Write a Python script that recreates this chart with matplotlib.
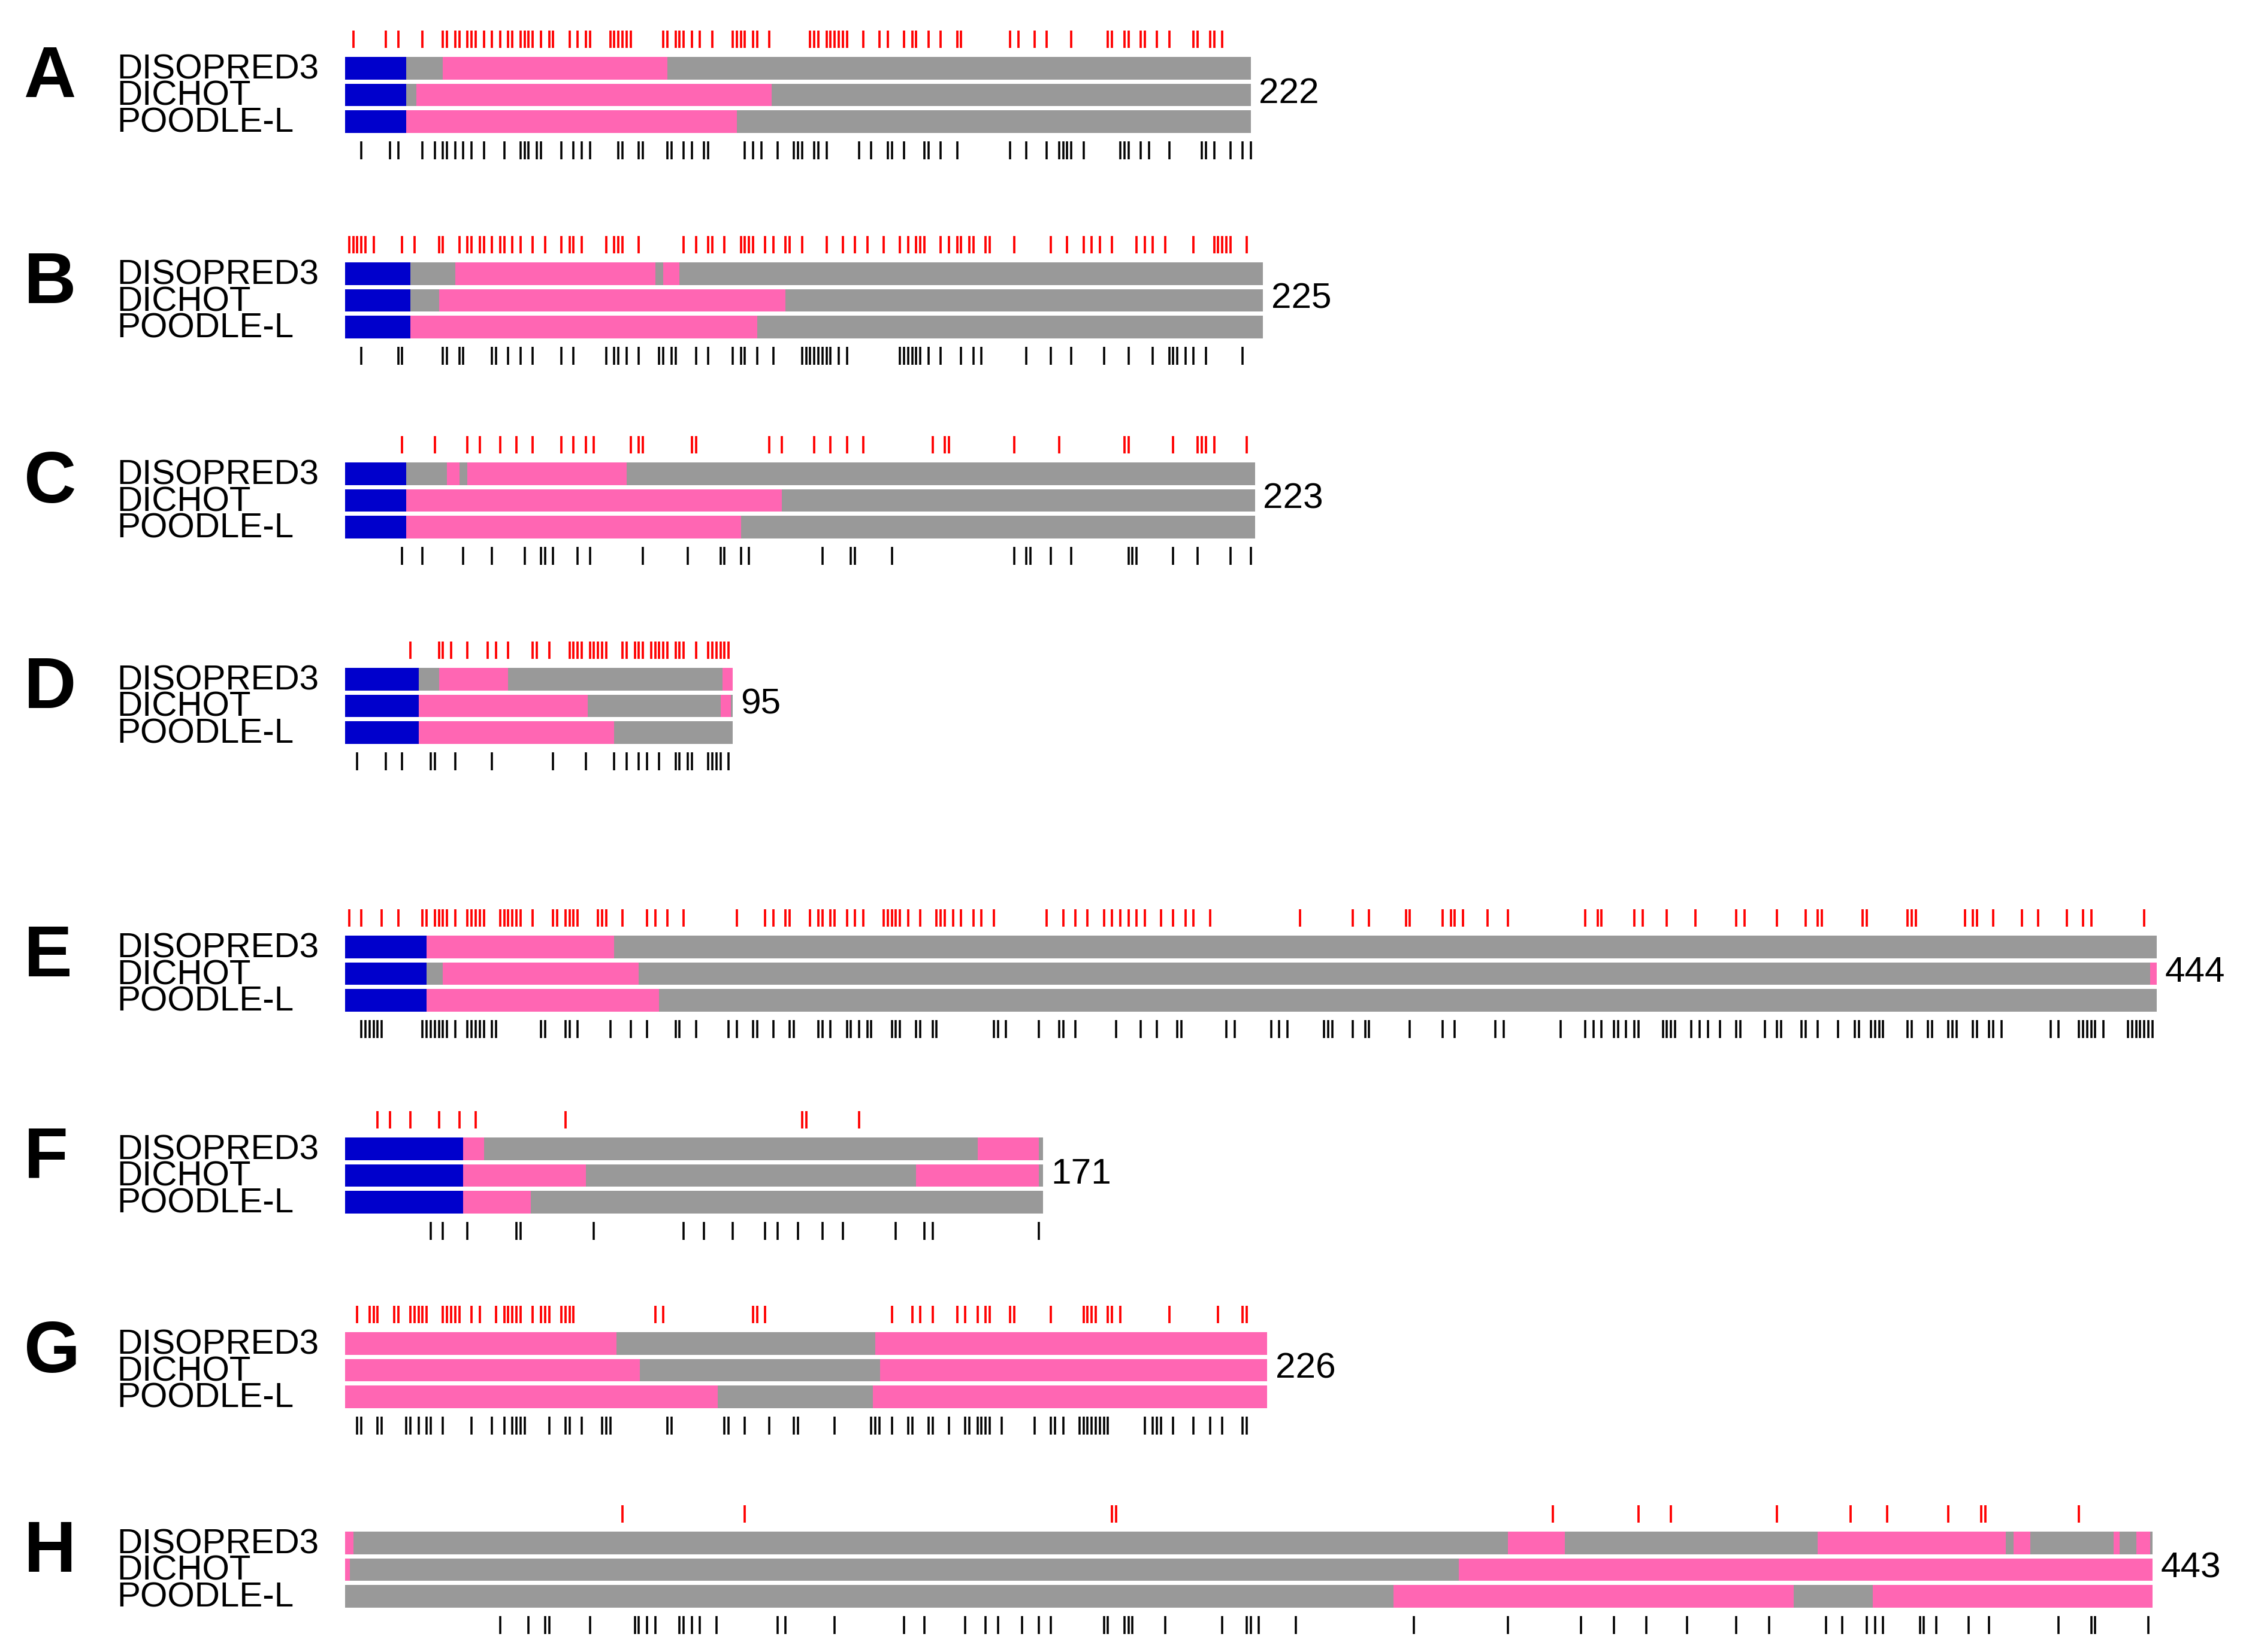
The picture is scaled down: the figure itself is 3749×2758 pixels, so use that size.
import matplotlib
matplotlib.use('Agg')
import matplotlib.pyplot as plt

plt.rcParams['font.family'] = ['Liberation Sans', 'DejaVu Sans']

# ---------------- data ----------------
panels = ['A', 'B', 'C', 'D', 'E', 'F', 'G', 'H']
lengths = [222, 225, 223, 95, 444, 171, 226, 443]
predictors = ['DISOPRED3', 'DICHOT', 'POODLE-L']

# segments per predictor: (start, end, state)  S = signal peptide, D = disordered, O = ordered
seg_A = [
    [(0, 15, 'S'), (15, 24, 'O'), (24, 79, 'D'), (79, 222, 'O')],
    [(0, 15, 'S'), (15, 17.5, 'O'), (17.5, 104.5, 'D'), (104.5, 222, 'O')],
    [(0, 15, 'S'), (15, 96, 'D'), (96, 222, 'O')],
]
seg_B = [
    [(0, 16, 'S'), (16, 27, 'O'), (27, 76, 'D'), (76, 78, 'O'), (78, 82, 'D'), (82, 225, 'O')],
    [(0, 16, 'S'), (16, 23, 'O'), (23, 108, 'D'), (108, 225, 'O')],
    [(0, 16, 'S'), (16, 101, 'D'), (101, 225, 'O')],
]
seg_C = [
    [(0, 15, 'S'), (15, 25, 'O'), (25, 28, 'D'), (28, 30, 'O'), (30, 69, 'D'), (69, 223, 'O')],
    [(0, 15, 'S'), (15, 107, 'D'), (107, 223, 'O')],
    [(0, 15, 'S'), (15, 97, 'D'), (97, 223, 'O')],
]
seg_D = [
    [(0, 18, 'S'), (18, 23, 'O'), (23, 40, 'D'), (40, 92.5, 'O'), (92.5, 95, 'D')],
    [(0, 18, 'S'), (18, 59.5, 'D'), (59.5, 92, 'O'), (92, 94.5, 'D'), (94.5, 95, 'O')],
    [(0, 18, 'S'), (18, 66, 'D'), (66, 95, 'O')],
]
seg_E = [
    [(0, 20, 'S'), (20, 66, 'D'), (66, 444, 'O')],
    [(0, 20, 'S'), (20, 24, 'O'), (24, 72, 'D'), (72, 442.5, 'O'), (442.5, 444, 'D')],
    [(0, 20, 'S'), (20, 77, 'D'), (77, 444, 'O')],
]
seg_F = [
    [(0, 29, 'S'), (29, 34, 'D'), (34, 155, 'O'), (155, 170, 'D'), (170, 171, 'O')],
    [(0, 29, 'S'), (29, 59, 'D'), (59, 140, 'O'), (140, 170, 'D'), (170, 171, 'O')],
    [(0, 29, 'S'), (29, 45.5, 'D'), (45.5, 171, 'O')],
]
seg_G = [
    [(0, 66.5, 'D'), (66.5, 130, 'O'), (130, 226, 'D')],
    [(0, 72.3, 'D'), (72.3, 131.2, 'O'), (131.2, 226, 'D')],
    [(0, 91.3, 'D'), (91.3, 129.3, 'O'), (129.3, 226, 'D')],
]
seg_H = [
    [(0, 2, 'D'), (2, 285, 'O'), (285, 299, 'D'), (299, 361, 'O'), (361, 407, 'D'),
     (407, 409, 'O'), (409, 413, 'D'), (413, 433.5, 'O'), (433.5, 435, 'D'),
     (435, 439, 'O'), (439, 442.5, 'D'), (442.5, 443, 'O')],
    [(0, 1.2, 'D'), (1.2, 273, 'O'), (273, 443, 'D')],
    [(0, 257, 'O'), (257, 355, 'D'), (355, 374.5, 'O'), (374.5, 443, 'D')],
]

# residue marks above (red) and below (black) each protein
red_A = [2, 10, 13, 19, 24, 25, 27, 28, 30, 31, 32, 34, 36, 38, 40, 41, 43, 44, 45, 46, 48, 50, 51,
         55, 57, 59, 60, 65, 66, 67, 68, 69, 70, 78, 79, 81, 82, 83, 85, 87, 90, 95, 96, 97, 98, 100,
         101, 104, 114, 115, 116, 118, 119, 120, 121, 122, 123, 127, 131, 133, 137, 139, 140, 143,
         146, 150, 151, 163, 165, 169, 172, 178, 187, 188, 191, 192, 195, 196, 199, 202, 208, 209,
         212, 213, 215]
black_A = [4, 11, 13, 19, 22, 24, 25, 27, 29, 31, 34, 39, 43, 44, 45, 47, 48, 53, 56, 58, 60, 67, 68,
           72, 73, 79, 80, 83, 85, 88, 89, 98, 100, 102, 106, 110, 111, 112, 115, 116, 118, 126, 129,
           133, 134, 137, 142, 143, 146, 150, 163, 167, 172, 175, 176, 177, 178, 181, 190, 191, 192,
           195, 197, 202, 210, 211, 213, 217, 220, 222]
red_B = [1, 2, 3, 4, 5, 7, 14, 17, 23, 24, 28, 30, 31, 33, 34, 36, 38, 39, 41, 43, 46, 49, 53, 55, 56,
         58, 64, 66, 67, 68, 72, 83, 86, 89, 90, 93, 97, 98, 99, 100, 103, 105, 108, 109, 112, 118,
         122, 125, 128, 132, 136, 138, 140, 141, 142, 146, 148, 150, 151, 153, 154, 157, 158, 164,
         173, 177, 181, 183, 185, 188, 194, 196, 198, 201, 208, 213, 214, 215, 216, 217, 221]
black_B = [4, 13, 14, 24, 25, 28, 29, 36, 37, 40, 43, 46, 53, 56, 64, 66, 67, 69, 72, 77, 78, 80, 81,
           86, 89, 95, 97, 98, 101, 105, 112, 113, 114, 115, 116, 117, 118, 119, 121, 123, 136, 137,
           138, 139, 140, 141, 143, 146, 151, 154, 156, 167, 173, 178, 186, 192, 198, 202, 203, 204,
           206, 208, 211, 220]
red_C = [14, 22, 30, 33, 38, 42, 46, 53, 56, 59, 61, 70, 72, 73, 85, 86, 104, 107, 115, 119, 123, 127,
         144, 147, 148, 164, 175, 191, 192, 203, 209, 210, 211, 213, 221]
black_C = [14, 19, 29, 36, 44, 48, 49, 51, 57, 60, 73, 84, 92, 93, 97, 99, 117, 124, 125, 134, 164,
           167, 168, 173, 178, 192, 193, 194, 203, 209, 217, 222]
red_D = [16, 23, 24, 26, 30, 35, 37, 40, 46, 47, 50, 55, 56, 57, 58, 60, 61, 62, 63, 64, 68, 69, 71,
         72, 73, 75, 76, 77, 78, 79, 81, 82, 83, 86, 89, 90, 91, 92, 93, 94]
black_D = [3, 10, 14, 21, 22, 27, 36, 51, 59, 66, 69, 72, 74, 77, 81, 82, 84, 85, 89, 90, 91, 92, 94]
red_E = [1, 4, 9, 13, 19, 20, 22, 23, 24, 25, 27, 30, 31, 32, 33, 34, 38, 39, 40, 41, 42, 43, 46, 51,
         52, 54, 55, 56, 57, 62, 63, 64, 68, 74, 76, 79, 83, 96, 103, 105, 108, 109, 114, 116, 117,
         119, 120, 123, 125, 127, 132, 133, 134, 135, 136, 138, 141, 145, 146, 147, 149, 151, 154,
         156, 159, 172, 176, 179, 182, 186, 188, 190, 192, 194, 196, 200, 203, 206, 208, 212,
         234, 247, 251, 260, 261, 269, 271, 272, 274, 280, 285, 304, 307, 308, 316, 318, 324, 331,
         341, 343, 351, 358, 361, 362, 372, 373, 383, 384, 385, 397, 399, 400, 404, 411, 415, 422,
         426, 428, 441]
black_E = [4, 5, 6, 7, 8, 9, 19, 20, 21, 22, 23, 24, 25, 27, 30, 31, 32, 33, 34, 36, 37, 48, 49, 54,
           55, 57, 65, 70, 74, 81, 82, 86, 94, 96, 100, 101, 105, 109, 110, 116, 117, 119, 123, 124,
           126, 128, 129, 134, 135, 136, 140, 141, 144, 145, 159, 160, 162, 170, 175, 176, 179, 189,
           195, 199, 204, 205, 216, 218,
           227, 229, 231, 240, 241, 242, 247, 250, 251, 261, 269, 272, 282, 284, 298, 304, 306, 308,
           311, 312, 314, 316, 317, 323, 324, 325, 326, 330, 332, 334, 337, 341, 342, 348, 351, 352,
           357, 358, 361, 366, 370, 371, 374, 375, 376, 377, 383, 384, 388, 389, 393, 394, 395, 399,
           400, 403, 404, 406, 418, 420, 425, 426, 427, 428, 429, 431, 437, 438, 439, 440, 441, 442,
           443]
red_F = [8, 11, 16, 23, 28, 32, 54, 112, 113, 126]
black_F = [21, 24, 30, 42, 43, 61, 83, 88, 95, 103, 106, 111, 117, 122, 135, 142, 144, 170]
red_G = [3, 6, 7, 8, 12, 13, 16, 17, 18, 19, 20, 24, 25, 26, 27, 28, 31, 33, 37, 39, 40, 41, 42, 43,
         46, 48, 49, 50, 53, 54, 55, 56, 76, 78, 100, 101, 103, 134, 139, 141, 144, 150, 152, 155,
         157, 158, 163, 164, 173, 181, 182, 183, 184, 187, 188, 190, 202, 214, 220, 221]
black_G = [3, 4, 8, 9, 15, 16, 18, 20, 21, 24, 31, 36, 39, 41, 42, 43, 44, 50, 54, 55, 58, 63, 64, 65,
           79, 80, 93, 94, 98, 104, 110, 111, 120, 129, 130, 131, 134, 138, 139, 143, 144, 148, 152,
           153, 155, 156, 157, 158, 161, 169, 173, 174, 176, 180, 181, 182, 183, 184, 185, 186, 187,
           196, 198, 199, 200, 203, 208, 212, 215, 220, 221]
red_H = [68, 98, 188, 189, 296, 317, 325, 351, 369, 378, 393, 401, 402, 425]
black_H = [38, 45, 49, 50, 60, 71, 72, 74, 76, 82, 83, 85, 87, 91, 106, 108, 120, 137, 142, 152, 157,
           160, 166, 170, 173, 186, 187, 191, 192, 193, 201, 215, 221, 222, 224, 233, 262, 285, 303,
           311, 319, 329, 341, 349, 363, 367, 373, 375, 377, 386, 387, 390, 398, 403, 420, 428, 429,
           442]

segments = [seg_A, seg_B, seg_C, seg_D, seg_E, seg_F, seg_G, seg_H]
red_marks = [red_A, red_B, red_C, red_D, red_E, red_F, red_G, red_H]
black_marks = [black_A, black_B, black_C, black_D, black_E, black_F, black_G, black_H]

# ---------------- layout ----------------
state_colors = {'S': '#0000CC', 'D': '#FF66B3', 'O': '#999999'}
W, H = 3749, 2758
px_per_res = 6.81
x0_px = 576                     # pixel where residue 0 sits
panel_top = [95, 438, 772, 1115, 1562, 1899, 2224, 2557]   # top of first bar (px)
bar_h = 37.5
bar_pitch = 44.5

fig = plt.figure(figsize=(W / 300, H / 300), dpi=300)
ax = fig.add_axes([0, 0, 1, 1])
ax.set_xlim(-x0_px / px_per_res, (W - x0_px) / px_per_res)
ax.set_ylim(H, 0)
ax.axis('off')

label_x = (195 - x0_px) / px_per_res
letter_x = (40 - x0_px) / px_per_res

for i, letter in enumerate(panels):
    top = panel_top[i]
    for k, name in enumerate(predictors):
        y = top + k * bar_pitch
        segs = segments[i][k]
        ax.barh([y] * len(segs), [e - s for s, e, _ in segs], left=[s for s, _, _ in segs],
                height=bar_h, align='edge', color=[state_colors[c] for _, _, c in segs],
                linewidth=0)
        ax.text(label_x, y + bar_h - 1, name, fontsize=14, ha='left', va='baseline')

    ax.vlines(red_marks[i], top - 44, top - 15, color='#FF0000', lw=0.9)
    ax.vlines(black_marks[i], top + 141, top + 171, color='black', lw=0.85)

    ax.text(letter_x, top + 36, letter, fontsize=29, fontweight='bold', ha='left', va='center')
    ax.text(lengths[i] + 2, top + bar_pitch + bar_h / 2 - 2, str(lengths[i]), fontsize=14.5,
            ha='left', va='center')

fig.savefig('out.png', dpi=300)
